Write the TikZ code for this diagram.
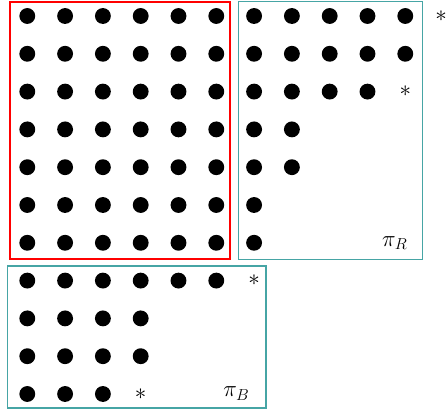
\documentclass[tikz,border=0pt]{standalone}
\definecolor{boxred}{RGB}{255,0,0}
\definecolor{boxteal}{RGB}{70,165,165}
\begin{document}
\begin{tikzpicture}[
  dot/.style={circle,fill=black,inner sep=0pt,minimum size=0.42cm},
  ast/.style={inner sep=0pt,font=\fontsize{17}{19}\selectfont},
  lbl/.style={inner sep=0pt,font=\fontsize{17}{19}\selectfont},
  redbox/.style={draw=boxred,line width=1.5pt,line join=miter},
  tealbox/.style={draw=boxteal,line width=1.05pt,line join=miter}]
\useasboundingbox (-0.722,0.423) rectangle (11.13,-10.45);
% boxes (drawn first, under the dots)
\draw[redbox] (-0.466,0.38) rectangle (5.37,-6.44);
\draw[tealbox] (5.58,0.38) rectangle (10.46,-6.45);
\draw[tealbox] (-0.53,-6.61) rectangle (6.31,-10.37);
% red block
\foreach \r in {0,...,6}{\foreach \c in {0,...,5}{\node[dot] (d\c-\r) at (\c,-\r) {};}}
% right block
\foreach \r in {0,1}{\foreach \c in {6,...,10}{\node[dot] (d\c-\r) at (\c,-\r) {};}}
\foreach \c in {6,...,9}{\node[dot] (d\c-2) at (\c,-2) {};}
\foreach \r in {3,4}{\foreach \c in {6,7}{\node[dot] (d\c-\r) at (\c,-\r) {};}}
\foreach \r in {5,6}{\node[dot] (d6-\r) at (6,-\r) {};}
% bottom block
\foreach \c in {0,...,5}{\node[dot] (d\c-7) at (\c,-7) {};}
\foreach \r in {8,9}{\foreach \c in {0,...,3}{\node[dot] (d\c-\r) at (\c,-\r) {};}}
\foreach \c in {0,...,2}{\node[dot] (d\c-10) at (\c,-10) {};}
% asterisks
\node[ast] (a1) at (10.95,0) {$*$};
\node[ast] (a2) at (10,-2) {$*$};
\node[ast] (a3) at (6,-7) {$*$};
\node[ast] (a4) at (3,-10) {$*$};
% labels
\node[lbl,anchor=base west] (piR) at (9.38,-6.09) {$\pi_R$};
\node[lbl,anchor=base west] (piB) at (5.18,-10.07) {$\pi_B$};
\end{tikzpicture}
\end{document}
